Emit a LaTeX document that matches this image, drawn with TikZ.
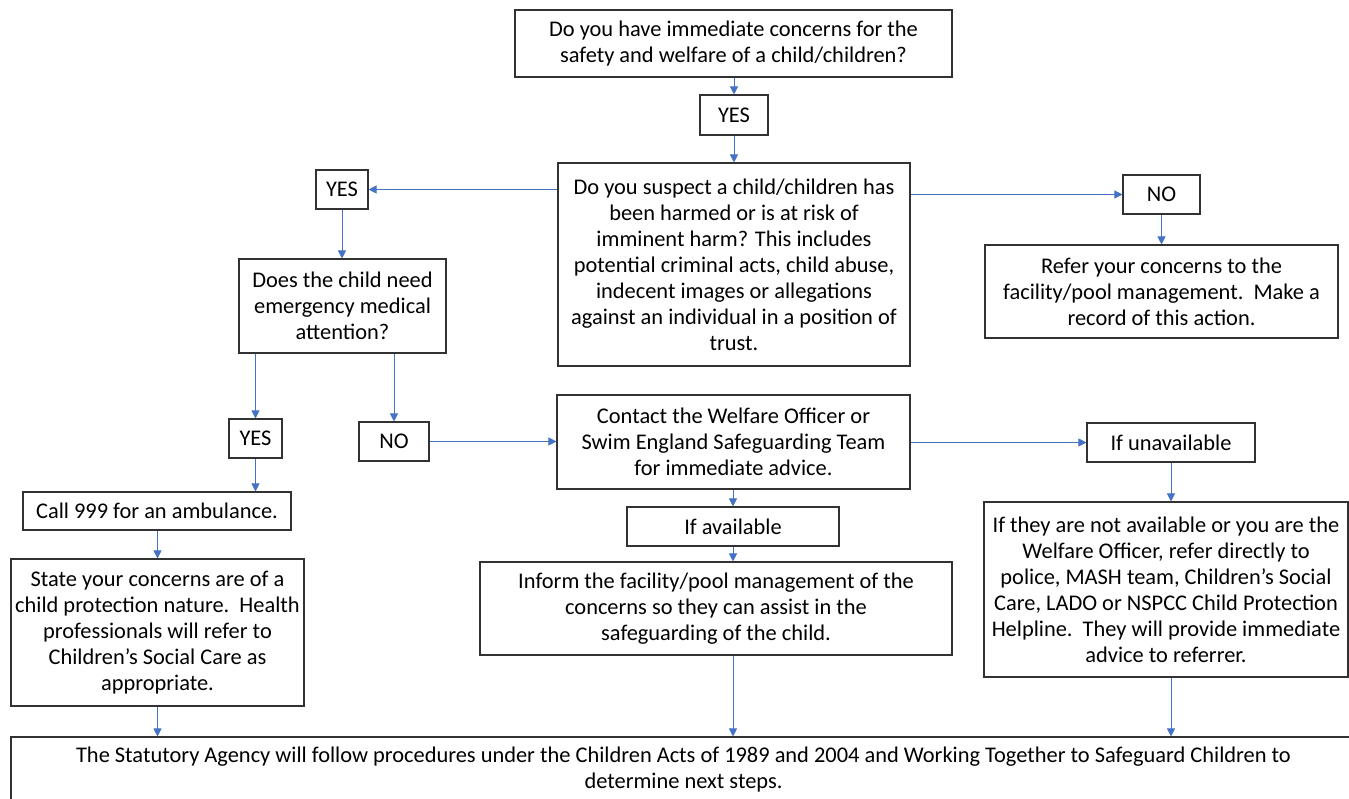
\documentclass[tikz,border=0pt]{standalone}
\usepackage{fontspec}
\setmainfont{Carlito}
\usetikzlibrary{arrows.meta}
\definecolor{arrowblue}{RGB}{68,114,196}
\definecolor{boxline}{RGB}{50,50,50}
\tikzset{
  box/.style={draw=boxline, line width=1.1pt, inner sep=0pt, align=center, font=\fontsize{22.4}{26}\selectfont, text=black},
  flow/.style={draw=arrowblue, line width=1pt, -{Triangle[length=8pt,width=8pt]}},
}
\begin{document}
\begin{tikzpicture}[x=1pt,y=-1pt]
\useasboundingbox (0,0) rectangle (1349,798);
\fill[white] (0,0) rectangle (1349,798);
\begin{scope}
\clip (0,0) rectangle (1349,798);
\node[box, minimum width=437, minimum height=67] (top) at (733.5,43.5) {Do you have immediate concerns for the\\safety and welfare of a child/children?};
\node[box, minimum width=68, minimum height=40] (yest) at (734,115) {YES};
\node[box, minimum width=352, minimum height=203] (main) at (734,264.5) {Do you suspect a child/children has\\been harmed or is at risk of\\imminent harm? This includes\\potential criminal acts, child abuse,\\indecent images or allegations\\against an individual in a position of\\trust.};
\node[box, minimum width=52, minimum height=39] (yesl) at (342,189.5) {YES};
\node[box, minimum width=207, minimum height=94] (does) at (342.5,306) {Does the child need\\emergency medical\\attention?};
\node[box, minimum width=77, minimum height=39] (nor) at (1161.5,194.5) {NO};
\node[box, minimum width=353, minimum height=93] (refer) at (1161.5,291.5) {Refer your concerns to the\\facility/pool management.\ \ Make a\\record of this action.};
\node[box, minimum width=53, minimum height=39] (yesb) at (255.5,438.5) {YES};
\node[box, minimum width=70, minimum height=39] (nob) at (394,441.5) {NO};
\node[box, minimum width=353, minimum height=94] (contact) at (733.5,442) {Contact the Welfare Officer or\\Swim England Safeguarding Team\\for immediate advice.};
\node[box, minimum width=168, minimum height=39] (unav) at (1171,442.5) {If unavailable};
\node[box, minimum width=212, minimum height=39] (avail) at (733,526.5) {If available};
\node[box, minimum width=268, minimum height=38] (call) at (157,511) {Call 999 for an ambulance.};
\node[box, minimum width=293, minimum height=147] (state) at (157.5,632.5) {State your concerns are of a\\child protection nature.\ \ Health\\professionals will refer to\\Children’s Social Care as\\appropriate.};
\node[box, minimum width=472, minimum height=93] (inform) at (716,608.5) {Inform the facility/pool management of the\\concerns so they can assist in the\\safeguarding of the child.};
\node[box, minimum width=364, minimum height=175] (ifthey) at (1166,589.5) {If they are not available or you are the\\Welfare Officer, refer directly to\\police, MASH team, Children’s Social\\Care, LADO or NSPCC Child Protection\\Helpline.\ \ They will provide immediate\\advice to referrer.};
\node[box, minimum width=1345, minimum height=113] (bottom) at (683.5,793.5) {};
\node[align=center, inner sep=0pt, font=\fontsize{22.4}{26}\selectfont] (bottomtxt) at (683.5,770) {The Statutory Agency will follow procedures under the Children Acts of 1989 and 2004 and Working Together to Safeguard Children to\\determine next steps.};

\draw[flow] (top.south -| yest.north) -- (yest.north);
\draw[flow] (yest.south) -- (main.north -| yest.south);
\draw[flow] (main.west |- yesl.east) -- (yesl.east);
\draw[flow] (main.east |- nor.west) -- (nor.west);
\draw[flow] (nor.south) -- (refer.north -| nor.south);
\draw[flow] (yesl.south) -- (does.north -| yesl.south);
\draw[flow] (does.south -| yesb.north) -- (yesb.north);
\draw[flow] (does.south -| nob.north) -- (nob.north);
\draw[flow] (nob.east) -- (contact.west |- nob.east);
\draw[flow] (contact.east |- unav.west) -- (unav.west);
\draw[flow] (yesb.south) -- (call.north -| yesb.south);
\draw[flow] (call.south -| state.north) -- (state.north);
\draw[flow] (state.south) -- (bottom.north -| state.south);
\draw[flow] (contact.south -| avail.north) -- (avail.north);
\draw[flow] (avail.south) -- (inform.north -| avail.south);
\draw[flow] (inform.south -| avail.south) -- (bottom.north -| avail.south);
\draw[flow] (unav.south) -- (ifthey.north -| unav.south);
\draw[flow] (ifthey.south -| unav.south) -- (bottom.north -| unav.south);
\end{scope}
\end{tikzpicture}
\end{document}
